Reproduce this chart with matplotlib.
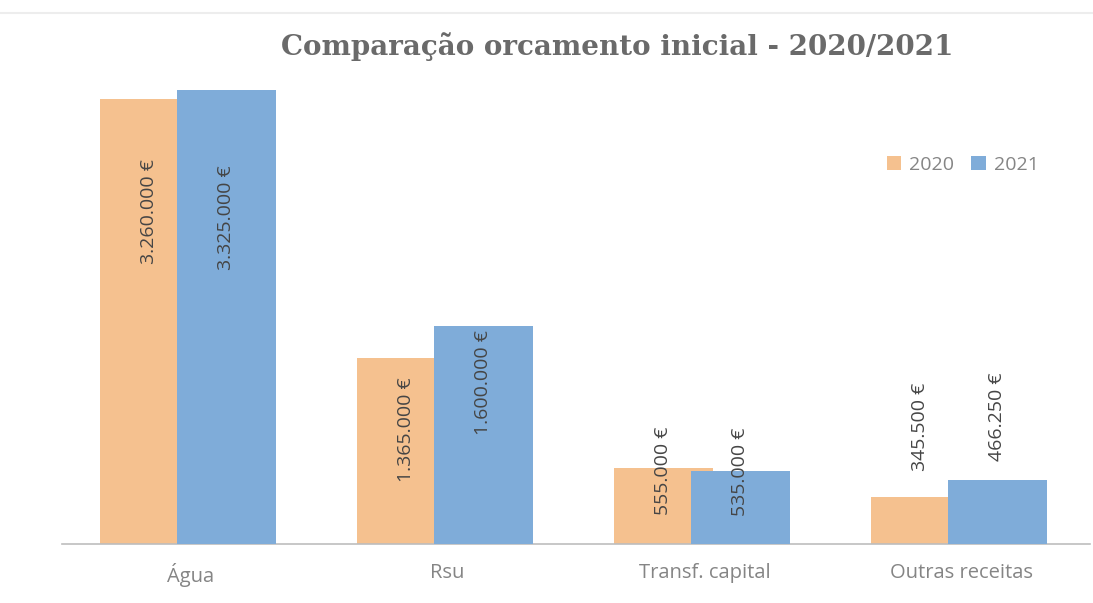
import matplotlib
matplotlib.use("Agg")
import matplotlib.pyplot as plt
import numpy as np
from matplotlib.lines import Line2D

categories = ["Água", "Rsu", "Transf. capital", "Outras receitas"]
series_names = ["2020", "2021"]
values_2020 = [3260000, 1365000, 555000, 345500]
values_2021 = [3325000, 1600000, 535000, 466250]

# label centre relative to bar top, in pixels (the original places them by hand)
label_shift_2020 = [-113, -72, -3, 70]
label_shift_2021 = [-128, -57, -1, 64]

COLOR_2020 = "#F5C18F"
COLOR_2021 = "#7FACD9"
GREY_TEXT = "#858585"


def euro(v):
    return f"{v:,.0f}".replace(",", ".") + " €"


fig = plt.figure(figsize=(10.93, 6.03), dpi=100)
ax = fig.add_axes((62 / 1093, 59 / 603, 1028 / 1093, 484 / 603))

x = np.arange(len(categories))
width = 0.385
b1 = ax.bar(x - 0.16, values_2020, width, color=COLOR_2020, label=series_names[0], zorder=2)
b2 = ax.bar(x + 0.14, values_2021, width, color=COLOR_2021, label=series_names[1], zorder=3)

for bars, vals, shifts in ((b1, values_2020, label_shift_2020), (b2, values_2021, label_shift_2021)):
    for rect, v, s in zip(bars, vals, shifts):
        ax.annotate(euro(v), (rect.get_x() + rect.get_width() / 2, v),
                    xytext=(0, s), textcoords="offset pixels",
                    rotation=90, ha="center", va="center",
                    fontsize=14, color="#454545", family="Open Sans", zorder=5)

ax.set_xlim(-0.5, len(categories) - 0.5)
ax.set_ylim(0, 3.545e6)
ax.set_yticks([])
ax.set_xticks(x)
ax.set_xticklabels(categories, fontsize=14.5, color=GREY_TEXT, family="Open Sans")
ax.tick_params(axis="x", length=0, pad=14)
for side in ("top", "right", "left"):
    ax.spines[side].set_visible(False)
ax.spines["bottom"].set_color("#BDBDBD")
ax.spines["bottom"].set_linewidth(1.2)

leg = ax.legend(loc="center right", bbox_to_anchor=(0.950, 0.783), ncol=2, frameon=False,
                borderpad=0, borderaxespad=0,
                handlelength=0.75, handleheight=0.75, handletextpad=0.4, columnspacing=0.9,
                prop={"family": "Open Sans", "size": 14})
for t in leg.get_texts():
    t.set_color(GREY_TEXT)

fig.text(0.565, 0.922, "Comparação orcamento inicial - 2020/2021", ha="center", va="center",
         fontsize=20, fontweight="bold", color="#6A6A6A", family="DejaVu Serif")

fig.add_artist(Line2D([0.0, 1.0], [0.978, 0.978], color="#EDEDED", lw=1.5))

fig.savefig("out.png", dpi=100)
